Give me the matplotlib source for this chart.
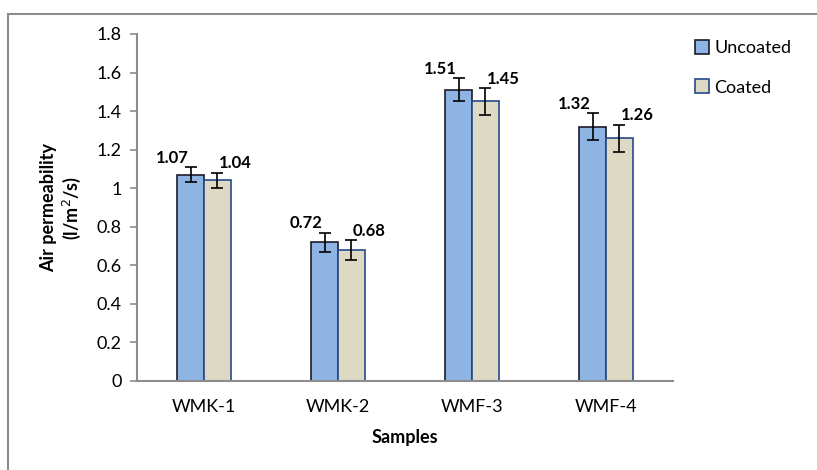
import numpy as np
import matplotlib.pyplot as plt
from matplotlib.patches import Rectangle

plt.rcParams['font.family'] = ['Lato', 'DejaVu Sans']

# Data
samples = ['WMK-1', 'WMK-2', 'WMF-3', 'WMF-4']
uncoated = [1.07, 0.72, 1.51, 1.32]
coated = [1.04, 0.68, 1.45, 1.26]
uncoated_err = [0.04, 0.05, 0.06, 0.07]
coated_err = [0.04, 0.05, 0.07, 0.07]

fig = plt.figure(figsize=(8.17, 4.70), dpi=100)
ax = fig.add_axes([0.1677, 0.1894, 0.656, 0.7383])

# outer chart frame
fig.patches.append(Rectangle((0.0098, -0.05), 1.1, 1.02, transform=fig.transFigure,
                             fill=False, edgecolor='#8c8c8c', linewidth=1.5))

x = np.arange(len(samples))
w = 0.2
ax.bar(x - w / 2, uncoated, w, color='#8EB4E3', edgecolor='#1c1c2a', linewidth=1.2,
       label='Uncoated', zorder=2)
ax.bar(x + w / 2, coated, w, color='#DDD9C3', edgecolor='#254a8a', linewidth=1.2,
       label='Coated', zorder=2)
ax.errorbar(x - w / 2, uncoated, yerr=uncoated_err, fmt='none', ecolor='black',
            elinewidth=1.2, capsize=4.5, capthick=1.2, zorder=3)
ax.errorbar(x + w / 2, coated, yerr=coated_err, fmt='none', ecolor='black',
            elinewidth=1.2, capsize=4.5, capthick=1.2, zorder=3)

for i in range(len(samples)):
    ax.annotate(f'{uncoated[i]:.2f}', (x[i] - w / 2, uncoated[i] + uncoated_err[i]),
                xytext=(-13, 1), textcoords='offset points', ha='center', va='bottom',
                fontsize=12, fontweight='bold')
    ax.annotate(f'{coated[i]:.2f}', (x[i] + w / 2, coated[i] + coated_err[i]),
                xytext=(13, 1), textcoords='offset points', ha='center', va='bottom',
                fontsize=12, fontweight='bold')

ax.set_xlim(-0.5, len(samples) - 0.5)
ax.set_ylim(0, 1.8)
ax.set_yticks(np.arange(0, 1.81, 0.2))
ax.set_yticklabels(['0', '0.2', '0.4', '0.6', '0.8', '1', '1.2', '1.4', '1.6', '1.8'])
ax.set_xticks(x)
ax.set_xticklabels(samples)
ax.tick_params(axis='x', length=0, pad=13, labelsize=13)
ax.tick_params(axis='y', length=5, color='#8c8c8c', width=1.2, pad=6, labelsize=13)
for s in ['top', 'right']:
    ax.spines[s].set_visible(False)
for s in ['left', 'bottom']:
    ax.spines[s].set_color('#8c8c8c')
    ax.spines[s].set_linewidth(1.5)

ax.set_xlabel('Samples', fontsize=13, fontweight='bold', labelpad=10)
ax.set_ylabel('Air permeability\n(l/m$^2$/s)', fontsize=13, fontweight='bold', labelpad=10)

ax.legend(loc='upper left', bbox_to_anchor=(1.01, 1.03), frameon=False, fontsize=13,
          handlelength=0.8, handleheight=0.8, handletextpad=0.3, labelspacing=1.3)

fig.savefig('out.png', dpi=100)
